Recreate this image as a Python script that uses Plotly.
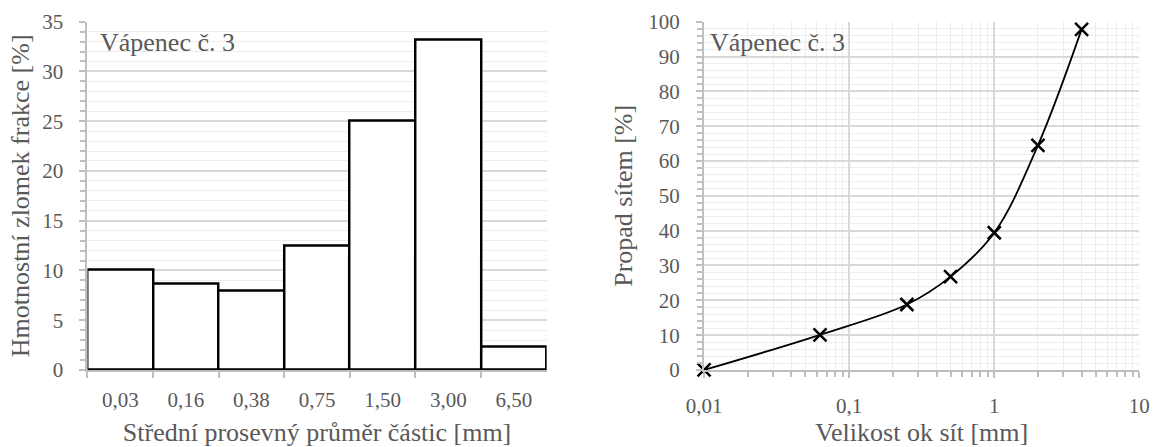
import plotly.graph_objects as go

# ---- data ----
fractions = ["0,03", "0,16", "0,38", "0,75", "1,50", "3,00", "6,50"]
mass_fraction = [10.1, 8.7, 8.0, 12.5, 25.1, 33.2, 2.3]

sieve_sizes = [0.01, 0.063, 0.25, 0.5, 1, 2, 4]
passing = [0, 10.1, 18.8, 26.8, 39.4, 64.5, 97.8]

sieve_tickvals = [0.01, 0.1, 1, 10]
sieve_ticktext = ["0,01", "0,1", "1", "10"]

sample_label = "Vápenec č. 3"
left_xtitle = "Střední prosevný průměr částic [mm]"
left_ytitle = "Hmotnostní zlomek frakce [%]"
right_xtitle = "Velikost ok sít [mm]"
right_ytitle = "Propad sítem [%]"

FONT = "Liberation Serif"
GRAY = "#595959"
AXIS = "#BFBFBF"
MAJOR = "#D9D9D9"
MINOR = "#EDEDED"

fig = go.Figure()
fig.add_trace(go.Bar(
    x=fractions, y=mass_fraction, width=1,
    marker=dict(color="white", line=dict(color="black", width=2.5)),
    xaxis="x", yaxis="y", showlegend=False, hoverinfo="x+y",
))
fig.add_trace(go.Scatter(
    x=sieve_sizes, y=passing, mode="lines+markers",
    line=dict(color="black", width=1.8, shape="spline", smoothing=1),
    marker=dict(symbol="x-thin", size=13, color="black",
                line=dict(color="black", width=2.5)),
    xaxis="x2", yaxis="y2", showlegend=False, cliponaxis=False,
))

tickfont = dict(family=FONT, size=21, color=GRAY)
titlefont = dict(family=FONT, size=26, color=GRAY)

fig.update_layout(
    width=1154, height=447,
    margin=dict(l=0, r=0, t=0, b=0),
    paper_bgcolor="white", plot_bgcolor="white",
    bargap=0,
    font=dict(family=FONT, color=GRAY),
    xaxis=dict(
        domain=[0.0758, 0.4737], anchor="y", type="category",
        range=[-0.5, 6.5], tickson="boundaries",
        ticks="outside", ticklen=6, tickcolor=AXIS, tickwidth=1.5,
        showline=True, linecolor=AXIS, linewidth=2,
        showgrid=False, zeroline=False,
        tickfont=tickfont, ticklabelstandoff=10, ticklabeloverflow="allow",
        title=dict(text=left_xtitle, font=titlefont, standoff=15),
        automargin="top",
    ),
    yaxis=dict(
        domain=[0.1723, 0.9515], anchor="x",
        range=[0, 35], dtick=5, tick0=0,
        ticks="outside", ticklen=6, tickcolor=AXIS, tickwidth=1.5,
        showline=True, linecolor=AXIS, linewidth=2,
        showgrid=True, gridcolor=MAJOR, gridwidth=1.5, zeroline=False,
        minor=dict(dtick=1, tick0=0, showgrid=True, gridcolor=MINOR, gridwidth=1,
                   ticks="outside", ticklen=5, tickcolor=AXIS),
        tickfont=tickfont, ticklabelstandoff=12, ticklabeloverflow="allow",
        title=dict(text=left_ytitle, font=titlefont, standoff=5),
        automargin=False,
    ),
    xaxis2=dict(
        domain=[0.6101, 0.9873], anchor="y2", type="log",
        range=[-2, 1],
        tickmode="array", tickvals=sieve_tickvals, ticktext=sieve_ticktext,
        ticks="outside", ticklen=6, tickcolor=AXIS, tickwidth=1.5,
        showline=True, linecolor=AXIS, linewidth=2,
        showgrid=True, gridcolor=MAJOR, gridwidth=1.5, zeroline=False,
        minor=dict(dtick="D1", showgrid=True, gridcolor=MINOR, gridwidth=1,
                   ticks="outside", ticklen=5, tickcolor=AXIS),
        tickfont=tickfont, ticklabelstandoff=10, ticklabeloverflow="allow",
        title=dict(text=right_xtitle, font=titlefont, standoff=15),
        automargin="top",
    ),
    yaxis2=dict(
        domain=[0.1723, 0.9515], anchor="x2",
        range=[0, 100], dtick=10, tick0=0,
        ticks="outside", ticklen=6, tickcolor=AXIS, tickwidth=1.5,
        showline=True, linecolor=AXIS, linewidth=2,
        showgrid=True, gridcolor=MAJOR, gridwidth=1.5, zeroline=False,
        minor=dict(dtick=2, tick0=0, showgrid=True, gridcolor=MINOR, gridwidth=1,
                   ticks="outside", ticklen=5, tickcolor=AXIS),
        tickfont=tickfont, ticklabelstandoff=12, ticklabeloverflow="allow",
        title=dict(text=right_ytitle, font=titlefont, standoff=8),
        automargin=False,
    ),
    annotations=[
        dict(text=sample_label, xref="x domain", yref="y domain", x=0.024, y=0.94,
             xanchor="left", yanchor="middle", showarrow=False,
             font=dict(family=FONT, size=26, color=GRAY)),
        dict(text=sample_label, xref="x2 domain", yref="y2 domain", x=0.008, y=0.94,
             xanchor="left", yanchor="middle", showarrow=False,
             font=dict(family=FONT, size=26, color=GRAY)),
    ],
)

fig.write_html(
    "out.html",
    config={"displayModeBar": False},
    post_script="document.body.style.margin='0';document.body.style.padding='0';",
)
